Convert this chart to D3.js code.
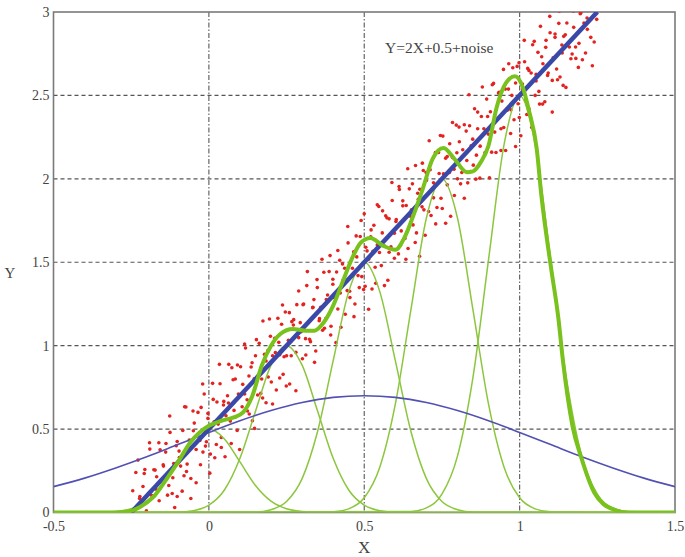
<!DOCTYPE html>
<html lang="en">
	<head>
		<meta charset="utf-8">
		<title>D3: RBF fit of Y=2X+0.5+noise</title>
		<script src="https://d3js.org/d3.v7.min.js"></script>
		<style type="text/css">
			body { margin: 0; background: #fff; }
			text {
				font-family: "Liberation Serif", "DejaVu Serif", serif;
				fill: #444;
			}
			.tick text { font-size: 14px; }
		</style>
	</head>
	<body>
		<svg id="chart" width="685" height="557"></svg>

		<script type="text/javascript">

			// axis ticks
			var xTicks = [-0.5, 0, 0.5, 1, 1.5];
			var xTickLabels = ["-0.5", "0", "0.5", "1", "1.5"];
			var yTicks = [0, 0.5, 1, 1.5, 2, 2.5, 3];
			var yTickLabels = ["0", "0.5", "1", "1.5", "2", "2.5", "3"];

			// noisy samples
			var scatterX = [-0.245,-0.239,-0.235,-0.228,-0.223,-0.215,-0.212,-0.206,-0.201,-0.194,
				-0.190,-0.184,-0.180,-0.173,-0.168,-0.160,-0.157,-0.151,-0.146,-0.139,
				-0.135,-0.129,-0.125,-0.118,-0.113,-0.105,-0.102,-0.096,-0.091,-0.084,
				-0.080,-0.074,-0.070,-0.063,-0.058,-0.050,-0.047,-0.041,-0.036,-0.029,
				-0.025,-0.019,-0.015,-0.008,-0.003,0.005,0.008,0.014,0.019,0.026,
				0.030,0.036,0.040,0.047,0.052,0.060,0.063,0.069,0.074,0.081,
				0.085,0.091,0.095,0.102,0.107,0.115,0.118,0.124,0.129,0.136,
				0.140,0.146,0.150,0.157,0.162,0.170,0.173,0.179,0.184,0.191,
				0.195,0.201,0.205,0.212,0.217,0.225,0.228,0.234,0.239,0.246,
				0.250,0.256,0.260,0.267,0.272,0.280,0.283,0.289,0.294,0.301,
				0.305,0.311,0.315,0.322,0.327,0.335,0.338,0.344,0.349,0.356,
				0.360,0.366,0.370,0.377,0.382,0.390,0.393,0.399,0.404,0.411,
				0.415,0.421,0.425,0.432,0.437,0.445,0.448,0.454,0.459,0.466,
				0.470,0.476,0.480,0.487,0.492,0.500,0.503,0.509,0.514,0.521,
				0.525,0.531,0.535,0.542,0.547,0.555,0.558,0.564,0.569,0.576,
				0.580,0.586,0.590,0.597,0.602,0.610,0.613,0.619,0.624,0.631,
				0.635,0.641,0.645,0.652,0.657,0.665,0.668,0.674,0.679,0.686,
				0.690,0.696,0.700,0.707,0.712,0.720,0.723,0.729,0.734,0.741,
				0.745,0.751,0.755,0.762,0.767,0.775,0.778,0.784,0.789,0.796,
				0.800,0.806,0.810,0.817,0.822,0.830,0.833,0.839,0.844,0.851,
				0.855,0.861,0.865,0.872,0.877,0.885,0.888,0.894,0.899,0.906,
				0.910,0.916,0.920,0.927,0.932,0.940,0.943,0.949,0.954,0.961,
				0.965,0.971,0.975,0.982,0.987,0.995,0.998,1.004,1.009,1.016,
				1.020,1.026,1.030,1.037,1.042,1.050,1.053,1.059,1.064,1.071,
				1.075,1.081,1.085,1.092,1.097,1.105,1.108,1.114,1.119,1.126,
				1.130,1.136,1.140,1.147,1.152,1.160,1.163,1.169,1.174,1.181,
				1.185,1.191,1.195,1.202,1.207,1.215,1.218,1.224,1.229,1.236,1.240,
				-0.236,-0.228,-0.222,-0.213,-0.208,-0.201,-0.191,-0.185,-0.177,-0.170,
				-0.161,-0.153,-0.147,-0.138,-0.133,-0.126,-0.116,-0.110,-0.102,-0.095,
				-0.086,-0.078,-0.072,-0.063,-0.058,-0.051,-0.041,-0.035,-0.027,-0.020,
				-0.011,-0.003,0.003,0.012,0.017,0.024,0.034,0.040,0.048,0.055,
				0.064,0.072,0.078,0.087,0.092,0.099,0.109,0.115,0.123,0.130,
				0.139,0.147,0.153,0.162,0.167,0.174,0.184,0.190,0.198,0.205,
				0.214,0.222,0.228,0.237,0.242,0.249,0.259,0.265,0.273,0.280,
				0.289,0.297,0.303,0.312,0.317,0.324,0.334,0.340,0.348,0.355,
				0.364,0.372,0.378,0.387,0.392,0.399,0.409,0.415,0.423,0.430,
				0.439,0.447,0.453,0.462,0.467,0.474,0.484,0.490,0.498,0.505,
				0.514,0.522,0.528,0.537,0.542,0.549,0.559,0.565,0.573,0.580,
				0.589,0.597,0.603,0.612,0.617,0.624,0.634,0.640,0.648,0.655,
				0.664,0.672,0.678,0.687,0.692,0.699,0.709,0.715,0.723,0.730,
				0.739,0.747,0.753,0.762,0.767,0.774,0.784,0.790,0.798,0.805,
				0.814,0.822,0.828,0.837,0.842,0.849,0.859,0.865,0.873,0.880,
				0.889,0.897,0.903,0.912,0.917,0.924,0.934,0.940,0.948,0.955,
				0.964,0.972,0.978,0.987,0.992,0.999,1.009,1.015,1.023,1.030,
				1.039,1.047,1.053,1.062,1.067,1.074,1.084,1.090,1.098,1.105,
				1.114,1.122,1.128,1.137,1.142,1.149,1.159,1.165,1.173,1.180,
				1.189,1.197,1.203,1.212,1.217,1.224,1.234,1.240,1.248,1.255];
			var scatterY = [0.130,-0.028,0.240,-0.096,0.084,-0.150,0.156,0.258,0.008,0.112,
				0.380,0.102,-0.030,0.254,0.214,0.070,0.376,-0.062,0.278,0.362,
				0.210,0.162,0.480,0.114,0.294,0.400,0.096,0.368,0.278,0.492,
				0.220,0.632,0.290,0.384,0.204,0.490,0.536,0.178,0.468,0.432,
				0.630,0.362,0.710,0.424,0.564,0.350,0.516,0.678,0.328,0.662,
				0.530,0.772,0.450,0.644,0.334,0.700,0.656,0.548,0.868,0.612,
				0.800,0.492,0.710,0.874,0.634,0.710,0.986,0.608,0.818,0.872,
				0.550,0.802,0.940,0.704,1.014,0.800,0.686,0.948,0.908,0.812,
				1.160,0.782,0.940,1.044,0.734,1.020,0.946,1.128,0.828,1.202,
				0.940,1.032,0.770,1.144,1.124,0.960,1.246,1.048,1.138,0.922,
				1.250,1.042,1.360,1.144,1.024,1.230,1.276,0.968,1.348,1.162,
				1.230,1.092,1.440,1.164,1.304,1.540,1.116,1.368,1.288,1.442,
				1.220,1.512,1.110,1.394,1.464,1.330,1.616,1.288,1.418,1.562,
				1.250,1.532,1.420,1.654,1.414,1.790,1.356,1.568,1.518,1.652,
				1.340,1.722,1.470,1.604,1.834,1.480,1.676,1.598,1.778,1.392,
				1.760,1.592,1.870,1.674,1.744,1.550,1.936,1.688,1.868,1.642,
				1.840,1.582,1.940,1.814,1.724,2.080,1.676,1.878,1.938,1.832,
				2.050,1.662,1.990,1.804,2.054,1.940,1.886,2.158,1.828,2.032,
				2.260,1.822,2.030,2.124,1.964,2.210,1.776,2.128,2.058,2.322,
				2.000,2.222,1.970,2.174,2.324,2.110,1.976,2.318,2.198,2.082,
				2.420,2.142,2.300,2.004,2.374,2.300,2.146,2.478,2.268,2.402,
				2.160,2.572,2.280,2.354,2.514,2.170,2.466,2.308,2.538,2.412,
				2.690,2.272,2.500,2.354,2.574,2.450,2.696,2.258,2.538,2.702,
				2.470,2.662,2.420,2.634,2.804,2.500,2.586,2.758,2.448,2.732,
				2.690,2.462,2.830,2.634,2.974,2.590,2.726,2.848,2.658,2.932,
				2.610,2.802,2.560,2.864,2.934,2.790,3.076,2.748,2.908,2.722,
				3.060,2.812,2.990,2.714,2.934,3.080,2.896,3.158,2.848,3.052,2.820,
				-0.152,0.314,0.096,-0.236,0.234,0.008,0.418,-0.090,0.256,0.140,
				0.418,-0.086,0.286,0.414,0.104,0.578,0.208,0.030,0.426,0.330,
				0.128,0.634,0.246,0.434,0.084,0.608,0.378,0.600,0.286,0.770,
				0.398,0.594,0.236,0.774,0.544,0.408,0.888,0.390,0.666,0.580,
				0.888,0.414,0.796,0.574,0.884,0.378,0.768,1.010,0.676,0.590,
				0.898,0.504,1.036,0.824,0.714,1.148,0.658,0.970,1.056,0.650,
				0.958,1.164,0.806,1.244,0.934,0.758,1.198,0.940,1.156,0.730,
				1.328,1.084,1.246,0.944,1.444,1.038,1.228,0.900,1.396,1.150,
				1.518,1.104,1.276,1.444,1.064,1.398,1.018,1.570,1.316,1.490,
				1.188,1.714,1.326,1.464,1.174,1.658,1.348,1.750,1.336,1.590,
				1.218,1.694,1.566,1.374,1.844,1.558,1.808,1.360,1.766,1.560,
				1.978,1.524,1.756,1.954,1.604,1.838,1.518,2.060,1.776,1.970,
				1.618,1.914,1.536,2.094,1.814,2.038,2.228,1.780,1.976,1.730,
				2.158,1.884,2.256,1.734,2.134,2.038,2.338,1.900,2.156,2.310,
				2.038,1.884,2.286,2.504,2.044,2.238,1.998,2.400,2.196,2.550,
				2.158,2.374,2.006,2.564,2.334,2.158,2.518,2.300,2.656,2.170,
				2.538,2.414,2.666,2.194,2.674,2.368,2.568,2.830,2.386,2.650,
				2.308,2.824,2.626,2.524,2.914,2.448,2.788,2.620,2.876,2.400,
				2.868,2.594,3.006,2.754,2.854,2.548,3.138,2.720,3.006,2.790,
				2.668,2.994,3.126,2.754,2.964,3.218,2.678,3.110,2.956,3.210];

			// straight line fit
			var fitLine = [[-0.25, 0], [1.25, 3]];

			// wide gaussian
			var wideBasis = [[-0.5,0.155],[-0.4,0.206],[-0.3,0.267],[-0.2,0.334],[-0.1,0.407],
				[0,0.48],[0.1,0.55],[0.2,0.611],[0.3,0.659],[0.4,0.690],[0.5,0.7],
				[0.6,0.690],[0.7,0.659],[0.8,0.611],[0.9,0.55],[1.0,0.48],[1.1,0.407],
				[1.2,0.334],[1.3,0.267],[1.4,0.206],[1.5,0.155]];

			// narrow basis functions
			var basis0 = [[-0.5,0],[-0.35,0.001],[-0.3,0.006],[-0.25,0.022],[-0.2,0.068],[-0.15,0.162],
				[-0.1,0.303],[-0.05,0.441],[0,0.5],[0.05,0.441],[0.1,0.303],[0.15,0.162],
				[0.2,0.068],[0.25,0.022],[0.3,0.006],[0.35,0.001],[1.5,0]];
			var basis1 = [[-0.5,0],[-0.1,0.002],[-0.05,0.011],[0,0.044],[0.05,0.135],[0.1,0.325],
				[0.15,0.607],[0.2,0.883],[0.25,1],[0.3,0.883],[0.35,0.607],[0.4,0.325],
				[0.45,0.135],[0.5,0.044],[0.55,0.011],[0.6,0.002],[1.5,0]];
			var basis2 = [[-0.5,0],[0.15,0.003],[0.2,0.017],[0.25,0.066],[0.3,0.203],[0.35,0.487],
				[0.4,0.910],[0.45,1.324],[0.5,1.5],[0.55,1.324],[0.6,0.910],[0.65,0.487],
				[0.7,0.203],[0.75,0.066],[0.8,0.017],[0.85,0.003],[1.5,0]];
			var basis3 = [[-0.5,0],[0.4,0.004],[0.45,0.022],[0.5,0.088],[0.55,0.271],[0.6,0.649],
				[0.65,1.213],[0.7,1.765],[0.75,2],[0.8,1.765],[0.85,1.213],[0.9,0.649],
				[0.95,0.271],[1.0,0.088],[1.05,0.022],[1.1,0.004],[1.5,0]];
			var basis4 = [[-0.5,0],[0.65,0.006],[0.7,0.028],[0.75,0.110],[0.8,0.338],[0.85,0.812],
				[0.9,1.516],[0.95,2.206],[1,2.5],[1.05,2.206],[1.1,1.516],[1.15,0.812],
				[1.2,0.338],[1.25,0.110],[1.3,0.028],[1.35,0.006],[1.5,0]];

			// network output
			var rbfOutput = [[-0.5,0],[-0.3,0],[-0.26,0.005],[-0.22,0.035],[-0.18,0.09],[-0.14,0.19],
				[-0.1,0.3],[-0.06,0.42],[-0.03,0.48],[0,0.52],[0.04,0.55],[0.08,0.57],[0.11,0.6],
				[0.14,0.7],[0.17,0.88],[0.2,1.0],[0.23,1.07],[0.27,1.1],[0.31,1.09],[0.34,1.09],
				[0.37,1.14],[0.4,1.24],[0.43,1.38],[0.46,1.52],[0.49,1.62],[0.52,1.645],[0.56,1.6],
				[0.6,1.575],[0.63,1.65],[0.66,1.79],[0.69,1.95],[0.72,2.12],[0.755,2.185],[0.79,2.12],
				[0.83,2.04],[0.85,2.045],[0.875,2.1],[0.9,2.2],[0.925,2.42],[0.95,2.555],[0.985,2.615],
				[1.01,2.55],[1.03,2.41],[1.055,2.18],[1.07,1.9],[1.1,1.48],[1.125,1.16],[1.14,0.9],
				[1.17,0.52],[1.2,0.32],[1.24,0.12],[1.27,0.05],[1.3,0.02],[1.35,0],[1.5,0]];


			var svg = d3.select("#chart");
			var plotL = 53.5, plotR = 675, plotT = 12, plotB = 512.5;

			var x = d3.scaleLinear().domain([-0.5, 1.5]).range([plotL, plotR]);
			var y = d3.scaleLinear().domain([0, 3]).range([plotB, plotT]);

			svg.append("clipPath").attr("id", "plot")
				.append("rect")
				.attr("x", plotL).attr("y", plotT)
				.attr("width", plotR - plotL).attr("height", plotB - plotT);

			//Grid
			svg.selectAll("line.hgrid")
				.data(yTicks.slice(1, -1))
				.enter().append("line")
				.attr("class", "hgrid")
				.attr("x1", plotL).attr("x2", plotR)
				.attr("y1", function(d) { return y(d); })
				.attr("y2", function(d) { return y(d); })
				.attr("stroke", "#555")
				.attr("stroke-width", 1.2)
				.attr("stroke-dasharray", "4,3");

			svg.selectAll("line.vgrid")
				.data(xTicks.slice(1, -1))
				.enter().append("line")
				.attr("class", "vgrid")
				.attr("y1", plotT).attr("y2", plotB)
				.attr("x1", function(d) { return x(d); })
				.attr("x2", function(d) { return x(d); })
				.attr("stroke", "#666")
				.attr("stroke-width", 1.2)
				.attr("stroke-dasharray", "5,2,1.5,2");

			//Frame
			svg.append("rect")
				.attr("x", plotL).attr("y", plotT)
				.attr("width", plotR - plotL).attr("height", plotB - plotT)
				.attr("fill", "none")
				.attr("stroke", "#7a7a7a")
				.attr("stroke-width", 1.6);

			var g = svg.append("g").attr("clip-path", "url(#plot)");

			//Samples
			g.selectAll("circle")
				.data(scatterX)
				.enter().append("circle")
				.attr("cx", function(d) { return x(d); })
				.attr("cy", function(d, i) { return y(scatterY[i]); })
				.attr("r", 1.8)
				.attr("fill", "#e3231f");

			var line = d3.line()
				.x(function(d) { return x(d[0]); })
				.y(function(d) { return y(d[1]); })
				.curve(d3.curveMonotoneX);

			[basis0, basis1, basis2, basis3, basis4].forEach(function(b) {
				g.append("path")
					.attr("d", line(b))
					.attr("fill", "none")
					.attr("stroke", "#8cc63e")
					.attr("stroke-width", 1.5);
			});

			g.append("path")
				.attr("d", line.curve(d3.curveCatmullRom)(wideBasis))
				.attr("fill", "none")
				.attr("stroke", "#5151b3")
				.attr("stroke-width", 1.6);

			g.append("path")
				.attr("d", line.curve(d3.curveLinear)(fitLine))
				.attr("fill", "none")
				.attr("stroke", "#3a48a8")
				.attr("stroke-width", 4.5);

			g.append("path")
				.attr("d", line.curve(d3.curveMonotoneX)(rbfOutput))
				.attr("fill", "none")
				.attr("stroke", "#79c11c")
				.attr("stroke-width", 4)
				.attr("stroke-linejoin", "round");

			//Axes
			svg.append("g")
				.attr("transform", "translate(0," + plotB + ")")
				.call(d3.axisBottom(x).tickValues(xTicks)
					.tickFormat(function(d, i) { return xTickLabels[i]; })
					.tickSize(0).tickPadding(9));
			svg.append("g")
				.attr("transform", "translate(" + plotL + ",0)")
				.call(d3.axisLeft(y).tickValues(yTicks)
					.tickFormat(function(d, i) { return yTickLabels[i]; })
					.tickSize(0).tickPadding(4));
			svg.selectAll(".domain").remove();
			svg.selectAll(".tick text")
				.attr("fill", "#444")
				.style("font-family", "'Liberation Serif', serif");

			//Titles
			svg.append("text")
				.attr("x", x(0.5)).attr("y", 553)
				.attr("text-anchor", "middle")
				.style("font-size", "17px")
				.text("X");

			svg.append("text")
				.attr("x", 10).attr("y", y(1.405))
				.attr("text-anchor", "middle")
				.style("font-size", "15px")
				.text("Y");

			svg.append("text")
				.attr("x", 385).attr("y", 53)
				.style("font-size", "15.5px")
				.text("Y=2X+0.5+noise");

		</script>
	</body>
</html>
